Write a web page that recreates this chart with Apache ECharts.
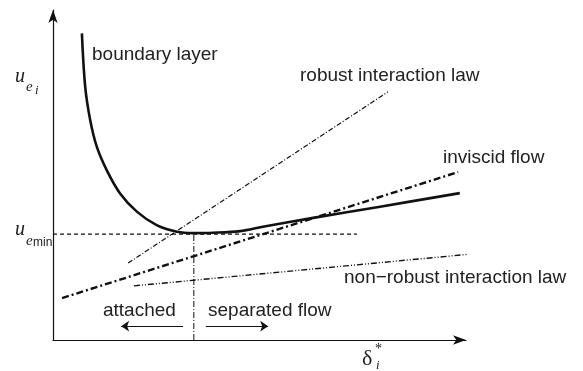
<!DOCTYPE html>
<html>
<head>
<meta charset="utf-8">
<script src="https://cdn.jsdelivr.net/npm/echarts@6/dist/echarts.min.js"></script>
<style>
  html, body { margin: 0; padding: 0; background: #fff; }
  #main { width: 583px; height: 371px; }
</style>
</head>
<body>
<div id="main"></div>
<script>
// schematic units: 0..10 on both axes
const boundaryX = [0.70, 0.78, 0.90, 1.06, 1.30, 1.62, 2.03, 2.51, 3.00, 3.39, 3.87, 4.53, 5.08, 6.30, 7.92, 9.85];
const boundaryY = [9.29, 7.67, 6.67, 5.86, 5.15, 4.45, 3.89, 3.48, 3.28, 3.24, 3.25, 3.30, 3.43, 3.70, 4.04, 4.45];
const robustLaw = [[1.82, 2.33], [8.11, 7.52]];
const inviscidFlow = [[0.22, 1.27], [9.81, 5.09]];
const nonRobustLaw = [[1.96, 1.64], [10.17, 2.61]];
const ueMin = 3.21;
const ueMinEndX = 7.36;
const separationX = 3.41;
const attachedArrow = [[3.15, 0.42], [1.65, 0.42]];
const separatedArrow = [[3.70, 0.42], [5.21, 0.42]];

const ink = '#111';
const sans = '19px "Liberation Sans", Arial, sans-serif';
const serif = '"Liberation Serif", "Times New Roman", serif';

var chart = echarts.init(document.getElementById('main'), null, { renderer: 'canvas' });

function straight(pts, width, dash, z) {
  return {
    type: 'line',
    data: pts,
    symbol: 'none',
    clip: false,
    z: z || 2,
    lineStyle: { color: ink, width: width, type: dash }
  };
}

function txt(x, y, text, font) {
  return {
    type: 'text',
    x: x, y: y,
    style: { text: text, font: font || sans, fill: '#222', textVerticalAlign: 'middle', verticalAlign: 'middle' }
  };
}

var option = {
  animation: false,
  grid: { left: 53, top: 10, width: 413, height: 330 },
  xAxis: {
    type: 'value', min: 0, max: 10,
    axisLine: { show: true, symbol: ['none', 'arrow'], symbolSize: [7, 13], lineStyle: { color: ink, width: 1.2 } },
    axisTick: { show: false }, axisLabel: { show: false }, splitLine: { show: false }
  },
  yAxis: {
    type: 'value', min: 0, max: 10,
    axisLine: { show: true, symbol: ['none', 'arrow'], symbolSize: [7, 13], lineStyle: { color: ink, width: 1.2 } },
    axisTick: { show: false }, axisLabel: { show: false }, splitLine: { show: false }
  },
  series: [
    straight([[0, ueMin], [ueMinEndX, ueMin]], 1.2, [4, 3]),
    straight([[separationX, 0], [separationX, ueMin]], 1, [6, 2, 1, 2]),
    straight(robustLaw, 1.2, [5, 2, 1, 2]),
    straight(inviscidFlow, 2.4, [7, 3, 2, 3], 3),
    straight(nonRobustLaw, 1.4, [6, 2, 1, 2, 1, 2]),
    {
      type: 'line',
      data: boundaryX.map((x, i) => [x, boundaryY[i]]),
      symbol: 'none',
      smooth: 0.35,
      z: 5,
      lineStyle: { color: ink, width: 2.6 }
    },
    {
      type: 'lines',
      coordinateSystem: 'cartesian2d',
      symbol: ['none', 'arrow'],
      symbolSize: 8,
      lineStyle: { color: ink, width: 1, opacity: 1 },
      data: [{ coords: attachedArrow }, { coords: separatedArrow }]
    }
  ],
  graphic: [
    txt(92, 55, 'boundary layer'),
    txt(300, 76, 'robust interaction law'),
    txt(443, 158, 'inviscid flow'),
    txt(344, 278, 'non\u2212robust interaction law'),
    txt(103, 311, 'attached'),
    txt(208, 311, 'separated flow'),
    // u_{e_i}
    txt(15, 77, 'u', 'italic 20px ' + serif),
    txt(26, 87, 'e', 'italic 15px ' + serif),
    txt(35, 91, 'i', 'italic 13px ' + serif),
    // u_{e_min}
    txt(15, 230, 'u', 'italic 20px ' + serif),
    txt(26, 241, 'e', 'italic 15px ' + serif),
    txt(33, 243, 'min', '12px "Liberation Sans", Arial, sans-serif'),
    // delta*_i
    txt(362, 359, '\u03b4', '22px ' + serif),
    txt(375, 349, '*', '14px ' + serif),
    txt(376, 366, 'i', 'italic 13px ' + serif)
  ]
};

chart.setOption(option);
</script>
</body>
</html>
